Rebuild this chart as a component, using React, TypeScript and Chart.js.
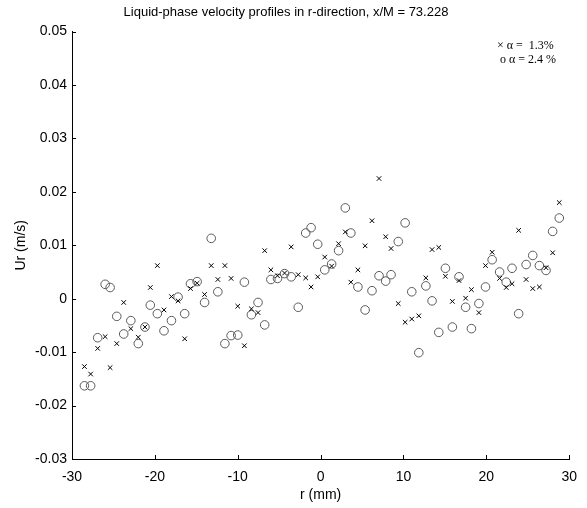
import React, { useEffect, useRef } from "react";
import { Chart, registerables } from "chart.js";

Chart.register(...registerables);

const rPositions = [
  -28.5, -27.75, -26.9, -26.0, -25.4, -24.6, -23.76, -22.9, -22.0, -21.2, -20.55, -19.7,
  -18.9, -18.0, -17.2, -16.4, -15.7, -14.9, -14.0, -13.2, -12.4, -11.55, -10.8, -10.0,
  -9.2, -8.35, -7.55, -6.75, -6.0, -5.2, -4.35, -3.55, -2.7, -1.8, -1.15, -0.35,
  0.5, 1.33, 2.17, 2.98, 3.65, 4.5, 5.37, 6.2, 7.05, 7.85, 8.5, 9.37,
  10.2, 11.0, 11.85, 12.7, 13.45, 14.26, 15.06, 15.9, 16.7, 17.5, 18.2, 19.1,
  19.9, 20.7, 21.6, 22.4, 23.1, 23.9, 24.8, 25.6, 26.4, 27.2, 28.0, 28.8,
];

const urAlpha13 = [
  -0.0127, -0.0141, -0.0093, -0.0071, -0.0129, -0.0084, -0.0007, -0.0056, -0.0072, -0.0053, 0.0021, 0.0062,
  -0.0021, 0.0004, -0.0004, -0.0075, 0.0019, 0.0029, 0.0008, 0.0062, 0.0036, 0.0062, 0.0038, -0.0014,
  -0.0088, -0.0019, -0.0026, 0.009, 0.0054, 0.0043, 0.0048, 0.0097, 0.0045, 0.0039, 0.0022, 0.0041,
  0.0078, 0.0061, 0.0103, 0.0125, 0.0031, 0.0054, 0.0099, 0.0146, 0.0225, 0.0116, 0.0094, -0.0009,
  -0.0044, -0.0038, -0.0032, 0.0039, 0.0092, 0.0096, 0.0042, -0.0005, 0.0034, 0.0001, 0.0017, -0.0026,
  0.0062, 0.0087, 0.0038, 0.0021, 0.0028, 0.0128, 0.0036, 0.0019, 0.0022, 0.0058, 0.0086, 0.018,
];

const urAlpha24 = [
  -0.0163, -0.0163, -0.0073, 0.0027, 0.0021, -0.0033, -0.0066, -0.0041, -0.0084, -0.0053, -0.0012, -0.0028,
  -0.006, -0.0041, 0.0003, -0.0028, 0.0028, 0.0032, -0.0007, 0.0113, 0.0013, -0.0084, -0.0069, -0.0068,
  0.0031, -0.003, -0.0007, -0.0049, 0.0036, 0.0038, 0.0047, 0.0041, -0.0016, 0.0123, 0.0133, 0.0102,
  0.0054, 0.0065, 0.009, 0.017, 0.0123, 0.0022, -0.0021, 0.0015, 0.0043, 0.0033, 0.0045, 0.0107,
  0.0142, 0.0013, -0.0101, 0.0024, -0.0004, -0.0063, 0.0057, -0.0053, 0.0041, -0.0016, -0.0056, -0.0009,
  0.0022, 0.0073, 0.005, 0.0031, 0.0057, -0.0028, 0.0064, 0.0081, 0.0062, 0.0053, 0.0126, 0.0151,
];

const titleText = "Liquid-phase velocity profiles in r-direction, x/M = 73.228";
const xAxisTitle = "r (mm)";
const yAxisTitle = "Ur (m/s)";
const legendLines = ["\u00d7 \u03b1 =  1.3%", "o \u03b1 = 2.4 %"];
const xTickRange = [-30, 30, 10];
const yTickRange = [-0.03, 0.05, 0.01];

const inwardTicks = {
  id: "inwardTicks",
  afterDraw(chart: any) {
    const { ctx, chartArea } = chart;
    const xs = chart.scales.x;
    const ys = chart.scales.y;
    ctx.save();
    ctx.strokeStyle = "#000";
    ctx.lineWidth = 1;
    xs.ticks.forEach((t: any) => {
      const px = Math.round(xs.getPixelForValue(t.value)) + 0.5;
      ctx.beginPath();
      ctx.moveTo(px, chartArea.bottom);
      ctx.lineTo(px, chartArea.bottom - 4);
      ctx.stroke();
    });
    ys.ticks.forEach((t: any) => {
      const py = Math.round(ys.getPixelForValue(t.value)) + 0.5;
      ctx.beginPath();
      ctx.moveTo(chartArea.left, py);
      ctx.lineTo(chartArea.left + 4, py);
      ctx.stroke();
    });
    ctx.restore();
  },
};

export default function App() {
  const canvasRef = useRef<HTMLCanvasElement | null>(null);

  useEffect(() => {
    document.body.style.margin = "0";
    const canvas = canvasRef.current;
    if (!canvas) return;
    const font = "'Liberation Sans', Arial, Helvetica, sans-serif";
    const chart = new Chart(canvas, {
      type: "scatter",
      data: {
        datasets: [
          {
            label: "alpha 1.3%",
            data: rPositions.map((r, i) => ({ x: r, y: urAlpha13[i] })),
            pointStyle: "crossRot",
            pointRadius: 3.2,
            borderColor: "#000",
            borderWidth: 1,
            backgroundColor: "#000",
          },
          {
            label: "alpha 2.4%",
            data: rPositions.map((r, i) => ({ x: r, y: urAlpha24[i] })),
            pointStyle: "circle",
            pointRadius: 4.3,
            borderColor: "#5a5a5a",
            borderWidth: 1,
            backgroundColor: "rgba(0,0,0,0)",
          },
        ],
      },
      options: {
        animation: false,
        responsive: false,
        devicePixelRatio: 1,
        layout: { padding: { left: 0, right: 15, top: 0, bottom: 0 } },
        plugins: {
          legend: { display: false },
          tooltip: { enabled: false },
          title: {
            display: true,
            text: titleText,
            color: "#000",
            font: { family: font, size: 13, weight: "normal" },
            padding: { top: 5, bottom: 11 },
          },
        },
        scales: {
          x: {
            type: "linear",
            min: xTickRange[0],
            max: xTickRange[1],
            ticks: {
              stepSize: xTickRange[2],
              color: "#000",
              font: { family: font, size: 14 },
              padding: 10,
              maxRotation: 0,
            },
            grid: { display: true, drawOnChartArea: false, drawTicks: false },
            border: { display: true, color: "#000", width: 1 },
            title: {
              display: true,
              text: xAxisTitle,
              color: "#000",
              font: { family: font, size: 14 },
              padding: { top: 4, bottom: 4 },
            },
            afterFit: (s: any) => {
              s.height = 49;
            },
          },
          y: {
            type: "linear",
            min: yTickRange[0],
            max: yTickRange[1],
            ticks: {
              stepSize: yTickRange[2],
              color: "#000",
              font: { family: font, size: 14 },
              padding: 5,
              callback: (v: any) => (Math.abs(Number(v)) < 1e-9 ? "0" : Number(v).toFixed(2)),
            },
            grid: { display: true, drawOnChartArea: false, drawTicks: false },
            border: { display: true, color: "#000", width: 1 },
            title: {
              display: true,
              text: yAxisTitle,
              color: "#000",
              font: { family: font, size: 14 },
              padding: { top: 13, bottom: 4 },
            },
            afterFit: (s: any) => {
              s.width = 72;
            },
          },
        },
      },
      plugins: [inwardTicks],
    });
    return () => chart.destroy();
  }, []);

  return (
    <div style={{ position: "relative", width: 587, height: 508, background: "#fff" }}>
      <canvas ref={canvasRef} width={587} height={508} style={{ display: "block" }} />
      <div
        style={{
          position: "absolute",
          left: 497,
          top: 38,
          fontFamily: "'Liberation Serif', 'Times New Roman', serif",
          fontSize: 12,
          lineHeight: "14px",
          color: "#000",
          whiteSpace: "pre",
        }}
      >
        <div>{legendLines[0]}</div>
        <div>{" " + legendLines[1]}</div>
      </div>
    </div>
  );
}
